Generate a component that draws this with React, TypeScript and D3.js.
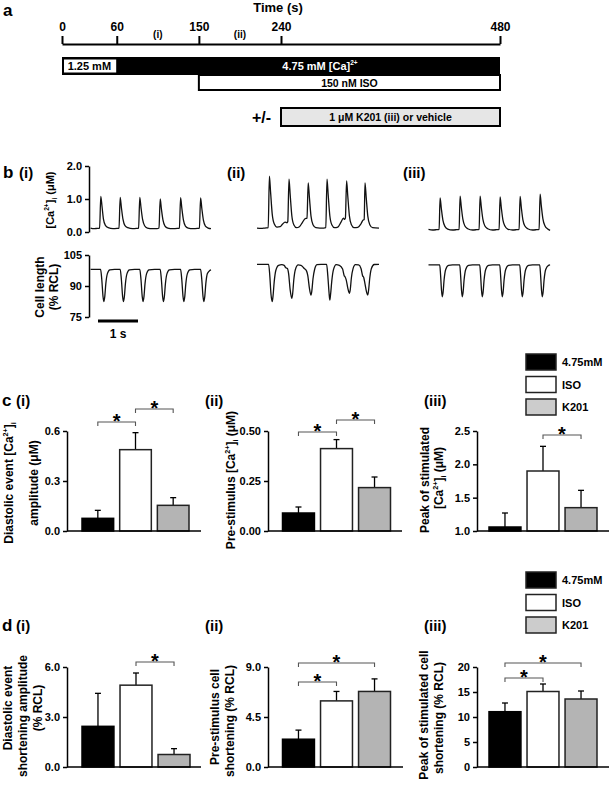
import React, { useRef, useEffect } from "react";
import * as d3 from "d3";

const FONT = "'Liberation Sans', Arial, Helvetica, sans-serif";
const W = 609;
const H = 785;

// ---- panel a: protocol timeline ----
const timeTicks = [0, 60, 150, 240, 480];
const phaseMarks = [
  { label: "(i)", t: 105 },
  { label: "(ii)", t: 195 },
];
const lowCa = { label: "1.25 mM", start: 0, end: 60 };
const highCa = { label: "4.75 mM [Ca]", start: 60, end: 480 };
const isoWin = { label: "150 nM ISO", start: 150, end: 480 };
const k201Win = { label: "1 μM K201 (iii) or vehicle", start: 240, end: 480 };

// ---- panel b: example traces, [time (s), value] ----
const caTraceI = [
  [0, 0.12], [0.08, 0.1], [0.16, 0.11], [0.225, 0.12], [0.255, 1.08], [0.285, 0.78], [0.32, 0.4], [0.37, 0.2], [0.44, 0.13], [0.56, 0.1],
  [0.66, 0.11], [0.71, 0.12], [0.74, 1.05], [0.77, 0.74], [0.81, 0.38], [0.86, 0.19], [0.93, 0.13], [1.05, 0.1],
  [1.15, 0.11], [1.2, 0.12], [1.23, 1.05], [1.26, 0.74], [1.3, 0.38], [1.35, 0.19], [1.42, 0.12], [1.55, 0.1],
  [1.66, 0.1], [1.71, 0.12], [1.74, 1.0], [1.77, 0.7], [1.81, 0.36], [1.86, 0.18], [1.93, 0.12], [2.05, 0.1],
  [2.17, 0.11], [2.22, 0.12], [2.25, 1.04], [2.28, 0.73], [2.32, 0.37], [2.37, 0.18], [2.44, 0.12], [2.56, 0.1],
  [2.67, 0.11], [2.72, 0.12], [2.75, 1.03], [2.78, 0.72], [2.82, 0.36], [2.87, 0.18], [2.94, 0.12], [3.01, 0.1],
];
const clTraceI = [
  [0, 98], [0.25, 98], [0.28, 93], [0.31, 85], [0.33, 82.5], [0.355, 85], [0.38, 91], [0.42, 96], [0.48, 97.8], [0.6, 98],
  [0.74, 98], [0.77, 93], [0.8, 85], [0.82, 82.5], [0.845, 85], [0.87, 91], [0.91, 96], [0.97, 97.8], [1.1, 98],
  [1.23, 98], [1.26, 93], [1.29, 85], [1.31, 82.5], [1.335, 85], [1.36, 91], [1.4, 96], [1.46, 97.8], [1.6, 98],
  [1.74, 98], [1.77, 93], [1.8, 85], [1.82, 82.5], [1.845, 85], [1.87, 91], [1.91, 96], [1.97, 97.8], [2.1, 98],
  [2.25, 98], [2.28, 93], [2.31, 85], [2.33, 82.5], [2.355, 85], [2.38, 91], [2.42, 96], [2.48, 97.8], [2.6, 98],
  [2.75, 98], [2.78, 93], [2.81, 85], [2.83, 82.5], [2.855, 85], [2.88, 91], [2.92, 96], [2.98, 97.5], [3.01, 97.8],
];
const caTraceII = [
  [0, 0.12], [0.1, 0.11], [0.2, 0.12], [0.28, 0.13], [0.31, 1.69], [0.34, 1.2], [0.38, 0.55], [0.43, 0.25], [0.5, 0.15],
  [0.58, 0.16], [0.64, 0.24], [0.7, 0.3], [0.75, 0.28], [0.77, 0.32], [0.8, 1.6], [0.83, 1.12], [0.87, 0.5], [0.92, 0.22], [0.99, 0.13],
  [1.06, 0.16], [1.13, 0.28], [1.2, 0.4], [1.25, 0.42], [1.28, 1.49], [1.31, 1.05], [1.35, 0.48], [1.4, 0.22], [1.47, 0.13],
  [1.57, 0.12], [1.67, 0.12], [1.72, 0.13], [1.75, 1.6], [1.78, 1.12], [1.82, 0.5], [1.87, 0.22], [1.94, 0.13],
  [2.02, 0.15], [2.1, 0.3], [2.16, 0.42], [2.19, 0.38], [2.21, 0.42], [2.24, 1.55], [2.27, 1.08], [2.31, 0.49], [2.36, 0.22], [2.43, 0.13],
  [2.52, 0.14], [2.6, 0.25], [2.65, 0.36], [2.68, 0.38], [2.7, 1.49], [2.73, 1.05], [2.77, 0.48], [2.82, 0.22], [2.89, 0.13], [3.05, 0.12],
];
const clTraceII = [
  [0, 100.5], [0.29, 100.5], [0.32, 95], [0.35, 86], [0.38, 82.4], [0.4, 85], [0.43, 92], [0.47, 97.5], [0.54, 100], [0.62, 100.3],
  [0.68, 100], [0.72, 98.8], [0.76, 98.5], [0.79, 96], [0.83, 88], [0.87, 84], [0.89, 86], [0.92, 93], [0.96, 98], [1.03, 100.2],
  [1.1, 100], [1.18, 98.5], [1.24, 97.2], [1.27, 95], [1.31, 89], [1.35, 85.6], [1.37, 87.5], [1.4, 93.5], [1.44, 98], [1.5, 100.3],
  [1.6, 100.5], [1.74, 100.5], [1.77, 95], [1.8, 87], [1.82, 83.2], [1.84, 86], [1.87, 92.5], [1.91, 97.8], [1.98, 100.3],
  [2.06, 100], [2.14, 98.2], [2.18, 95], [2.2, 94.5], [2.23, 93], [2.27, 89], [2.31, 86.5], [2.33, 88], [2.36, 94], [2.4, 98.3], [2.46, 100.3],
  [2.54, 100.2], [2.6, 98.5], [2.64, 95], [2.67, 94], [2.7, 91], [2.74, 87], [2.77, 85.6], [2.79, 88], [2.82, 94], [2.86, 98.5], [2.93, 100.4], [3.05, 100.5],
];
const caTraceIII = [
  [0, 0.08], [0.1, 0.06], [0.2, 0.07], [0.265, 0.08], [0.29, 1.03], [0.32, 0.72], [0.36, 0.36], [0.41, 0.17], [0.48, 0.09], [0.6, 0.06],
  [0.7, 0.07], [0.765, 0.08], [0.79, 1.09], [0.82, 0.76], [0.86, 0.38], [0.91, 0.18], [0.98, 0.1], [1.1, 0.06],
  [1.2, 0.07], [1.265, 0.08], [1.29, 1.09], [1.32, 0.76], [1.36, 0.38], [1.41, 0.18], [1.48, 0.1], [1.6, 0.06],
  [1.7, 0.07], [1.765, 0.08], [1.79, 1.06], [1.82, 0.74], [1.86, 0.37], [1.91, 0.18], [1.98, 0.09], [2.1, 0.06],
  [2.2, 0.07], [2.265, 0.08], [2.29, 1.08], [2.32, 0.75], [2.36, 0.37], [2.41, 0.18], [2.48, 0.1], [2.6, 0.06],
  [2.7, 0.07], [2.765, 0.08], [2.79, 1.15], [2.82, 0.8], [2.86, 0.4], [2.91, 0.19], [2.98, 0.09], [3.04, 0.05],
];
const clTraceIII = [
  [0, 100.2], [0.28, 100.2], [0.3, 96], [0.325, 88], [0.345, 84.8], [0.365, 87], [0.39, 93], [0.43, 98], [0.5, 100], [0.6, 100.2],
  [0.78, 100.2], [0.8, 96], [0.825, 88], [0.845, 84.8], [0.865, 87], [0.89, 93], [0.93, 98], [1.0, 100], [1.1, 100.2],
  [1.28, 100.2], [1.3, 96], [1.325, 88], [1.345, 84.8], [1.365, 87], [1.39, 93], [1.43, 98], [1.5, 100], [1.6, 100.2],
  [1.78, 100.2], [1.8, 96], [1.825, 88], [1.845, 84.8], [1.865, 87], [1.89, 93], [1.93, 98], [2.0, 100], [2.1, 100.2],
  [2.28, 100.2], [2.3, 96], [2.325, 88], [2.345, 84.8], [2.365, 87], [2.39, 93], [2.43, 98], [2.5, 100], [2.6, 100.2],
  [2.78, 100.2], [2.8, 96], [2.825, 88], [2.845, 84.8], [2.865, 87], [2.89, 93], [2.93, 98], [3.0, 100], [3.04, 100.2],
];
const caTicks = [0, 1, 2];
const clTicks = [75, 90, 105];

// ---- panels c, d: group means and SEM ----
const groups = ["4.75mM", "ISO", "K201"];
const diastolicCaAmp = [0.076, 0.488, 0.154];
const diastolicCaAmpSem = [0.048, 0.102, 0.046];
const preStimCa = [0.09, 0.412, 0.217];
const preStimCaSem = [0.03, 0.045, 0.053];
const peakCa = [1.06, 1.9, 1.35];
const peakCaSem = [0.21, 0.37, 0.26];
const diastolicShort = [2.44, 4.91, 0.75];
const diastolicShortSem = [1.98, 0.73, 0.35];
const preStimShort = [2.5, 5.95, 6.8];
const preStimShortSem = [0.82, 0.85, 1.13];
const peakShort = [11.06, 15.1, 13.6];
const peakShortSem = [1.74, 1.5, 1.6];

const fills = ["#000000", "#ffffff", "#b4b4b4"];
const legendFills = ["#000000", "#ffffff", "#cccccc"];

function LeftAxis({ scale, x, ticks, fmt, size = 11 }: any) {
  const ref = useRef<SVGGElement>(null);
  useEffect(() => {
    const g = d3.select(ref.current);
    g.call(
      d3.axisLeft(scale).tickValues(ticks).tickFormat(d3.format(fmt)).tickSize(4).tickSizeOuter(0).tickPadding(3) as any
    );
    g.attr("font-family", FONT).attr("font-size", size).attr("font-weight", "bold");
    g.select(".domain").attr("stroke", "#000").attr("stroke-width", 1.5);
    g.selectAll(".tick line").attr("stroke", "#000").attr("stroke-width", 1.5);
    g.selectAll(".tick text").attr("fill", "#000");
  }, [scale, ticks, fmt]);
  return <g ref={ref} transform={`translate(${x},0)`} />;
}

function TimeAxis({ scale, y }: any) {
  const ref = useRef<SVGGElement>(null);
  useEffect(() => {
    const g = d3.select(ref.current);
    g.call(d3.axisTop(scale).tickValues(timeTicks).tickFormat(d3.format("d")).tickSize(8).tickSizeOuter(0).tickPadding(5) as any);
    g.attr("font-family", FONT).attr("font-size", 12).attr("font-weight", "bold");
    g.select(".domain").attr("stroke", "#000").attr("stroke-width", 2);
    g.selectAll(".tick line").attr("stroke", "#000").attr("stroke-width", 2);
    g.selectAll(".tick text").attr("fill", "#000");
  }, [scale]);
  return <g ref={ref} transform={`translate(0,${y})`} />;
}

function CaLabel({ size = 11 }: any) {
  return (
    <>
      [Ca<tspan dy={-5} fontSize={size * 0.6}>2+</tspan>
      <tspan dy={5}>]</tspan>
      <tspan dy={3} fontSize={size * 0.6}>i</tspan>
      <tspan dy={-3}> </tspan>
    </>
  );
}

function Timeline() {
  const t = d3.scaleLinear().domain([0, 480]).range([62, 500]);
  return (
    <g fontFamily={FONT} fontWeight="bold">
      <text x={3} y={16} fontSize={17}>a</text>
      <text x={t(240) - 3} y={12} fontSize={13} textAnchor="middle">Time (s)</text>
      <TimeAxis scale={t} y={44} />
      {phaseMarks.map((p) => (
        <text key={p.label} x={t(p.t)} y={38} fontSize={10} textAnchor="middle">{p.label}</text>
      ))}
      <rect x={t(lowCa.start)} y={57} width={t(highCa.end) - t(lowCa.start)} height={18} fill="#000" />
      <rect x={t(lowCa.start) + 1.5} y={59} width={t(lowCa.end) - t(lowCa.start) - 1.5} height={14} fill="#fff" stroke="#000" strokeWidth={1} />
      <text x={(t(lowCa.start) + t(lowCa.end)) / 2} y={70} fontSize={11} textAnchor="middle">{lowCa.label}</text>
      <text x={320} y={70} fontSize={11} textAnchor="middle" fill="#fff">
        {highCa.label}<tspan dy={-5} fontSize={6.5}>2+</tspan>
      </text>
      <rect x={t(isoWin.start)} y={75} width={t(isoWin.end) - t(isoWin.start)} height={15} fill="#fff" stroke="#000" strokeWidth={2} />
      <text x={(t(isoWin.start) + t(isoWin.end)) / 2} y={86.5} fontSize={10.5} textAnchor="middle">{isoWin.label}</text>
      <text x={t(k201Win.start) - 10} y={123} fontSize={16} textAnchor="end">+/-</text>
      <rect x={t(k201Win.start)} y={108} width={t(k201Win.end) - t(k201Win.start)} height={18} fill="#e6e6e6" stroke="#000" strokeWidth={2} />
      <text x={(t(k201Win.start) + t(k201Win.end)) / 2} y={121} fontSize={10.5} textAnchor="middle">{k201Win.label}</text>
    </g>
  );
}

function Traces() {
  const cols = [
    { x0: 90.6, ca: caTraceI, cl: clTraceI, label: "(i)", lx: 19 },
    { x0: 257, ca: caTraceII, cl: clTraceII, label: "(ii)", lx: 227 },
    { x0: 428.5, ca: caTraceIII, cl: clTraceIII, label: "(iii)", lx: 403 },
  ];
  const yCa = d3.scaleLinear().domain([0, 2]).range([232, 166]);
  const yCl = d3.scaleLinear().domain([75, 105]).range([317, 255]);
  return (
    <g fontFamily={FONT} fontWeight="bold">
      <text x={3} y={178} fontSize={17}>b</text>
      {cols.map((c) => {
        const x = d3.scaleLinear().domain([0, 1]).range([c.x0, c.x0 + 40]);
        const lineCa = d3.line<number[]>().x((d) => x(d[0])).y((d) => yCa(d[1])).curve(d3.curveMonotoneX);
        const lineCl = d3.line<number[]>().x((d) => x(d[0])).y((d) => yCl(d[1])).curve(d3.curveMonotoneX);
        return (
          <g key={c.label}>
            <text x={c.lx} y={178} fontSize={15}>{c.label}</text>
            <path d={lineCa(c.ca as any) || ""} fill="none" stroke="#111" strokeWidth={1.3} />
            <path d={lineCl(c.cl as any) || ""} fill="none" stroke="#111" strokeWidth={1.3} />
          </g>
        );
      })}
      <LeftAxis scale={yCa} x={89} ticks={caTicks} fmt=".1f" />
      <LeftAxis scale={yCl} x={89} ticks={clTicks} fmt="d" />
      <text transform="translate(54,200) rotate(-90)" fontSize={11} textAnchor="middle">
        <CaLabel size={11} />(μM)
      </text>
      <text transform="translate(44,287) rotate(-90)" fontSize={12} textAnchor="middle">Cell length</text>
      <text transform="translate(58,287) rotate(-90)" fontSize={12} textAnchor="middle">(% RCL)</text>
      <line x1={98} x2={138} y1={321} y2={321} stroke="#000" strokeWidth={3} />
      <text x={118} y={338} fontSize={12} textAnchor="middle">1 s</text>
    </g>
  );
}

function BarPanel({ axisX, top, bottom, end, domain, ticks, fmt, means, sems, brackets, barRange }: any) {
  const y = d3.scaleLinear().domain(domain).range([bottom, top]);
  const x = d3.scaleBand().domain(groups).range(barRange).paddingInner(0.16).paddingOuter(0);
  const bw = x.bandwidth();
  const cx = (i: number) => (x(groups[i]) as number) + bw / 2;
  return (
    <g>
      {groups.map((g, i) => (
        <g key={g}>
          <line x1={cx(i)} x2={cx(i)} y1={y(means[i])} y2={y(means[i] + sems[i])} stroke="#000" strokeWidth={1.3} />
          <line x1={cx(i) - 3} x2={cx(i) + 3} y1={y(means[i] + sems[i])} y2={y(means[i] + sems[i])} stroke="#000" strokeWidth={1.3} />
          <rect x={x(g)} y={y(means[i])} width={bw} height={y(domain[0]) - y(means[i])} fill={fills[i]} stroke={i === 0 ? "#000" : "#222"} strokeWidth={1.5} />
        </g>
      ))}
      <line x1={axisX} x2={end} y1={bottom} y2={bottom} stroke="#000" strokeWidth={1.5} />
      <LeftAxis scale={y} x={axisX} ticks={ticks} fmt={fmt} />
      {brackets.map((b: any, k: number) => (
        <g key={k}>
          <path d={`M${cx(b.a)},${b.y + 4}V${b.y}H${cx(b.b)}V${b.y + 4}`} fill="none" stroke="#555" strokeWidth={1.1} />
          <text x={(cx(b.a) + cx(b.b)) / 2} y={b.y + 6} fontSize={20} fontWeight="bold" fontFamily={FONT} textAnchor="middle">*</text>
        </g>
      ))}
    </g>
  );
}

function Legend({ y0 }: any) {
  return (
    <g fontFamily={FONT} fontWeight="bold" fontSize={11}>
      {groups.map((g, i) => (
        <g key={g}>
          <rect x={526} y={y0 + i * 22.5} width={30} height={16} fill={legendFills[i]} stroke="#222" strokeWidth={1.5} />
          <text x={562} y={y0 + i * 22.5 + 12}>{g}</text>
        </g>
      ))}
    </g>
  );
}

function RotLabel({ x, y, children, size = 12 }: any) {
  return (
    <text transform={`translate(${x},${y}) rotate(-90)`} fontSize={size} fontFamily={FONT} fontWeight="bold" textAnchor="middle">
      {children}
    </text>
  );
}

export default function App() {
  useEffect(() => {
    document.body.style.margin = "0";
  }, []);
  const cTop = 431;
  const cBot = 531;
  const dTop = 667;
  const dBot = 767;
  return (
    <svg width={W} height={H} style={{ position: "absolute", left: 0, top: 0, background: "#fff" }}>
      <rect width={W} height={H} fill="#fff" />
      <Timeline />
      <Traces />

      {/* panel c */}
      <g fontFamily={FONT} fontWeight="bold">
        <text x={2} y={406} fontSize={17}>c</text>
        <text x={16} y={406} fontSize={15}>(i)</text>
        <text x={205} y={406} fontSize={15}>(ii)</text>
        <text x={424} y={406} fontSize={15}>(iii)</text>
      </g>
      <Legend y0={354} />
      <BarPanel axisX={67} top={cTop} bottom={cBot} end={201} domain={[0, 0.6]} ticks={[0, 0.3, 0.6]} fmt=".1f"
        means={diastolicCaAmp} sems={diastolicCaAmpSem} barRange={[82, 189]}
        brackets={[{ a: 0, b: 1, y: 422 }, { a: 1, b: 2, y: 409 }]} />
      <BarPanel axisX={268} top={cTop} bottom={cBot} end={402} domain={[0, 0.5]} ticks={[0, 0.25, 0.5]} fmt=".2f"
        means={preStimCa} sems={preStimCaSem} barRange={[282.5, 390.5]}
        brackets={[{ a: 0, b: 1, y: 432 }, { a: 1, b: 2, y: 420 }]} />
      <BarPanel axisX={477} top={cTop} bottom={cBot} end={609} domain={[1, 2.5]} ticks={[1, 1.5, 2, 2.5]} fmt=".1f"
        means={peakCa} sems={peakCaSem} barRange={[489, 597]}
        brackets={[{ a: 1, b: 2, y: 435 }]} />
      <RotLabel x={13} y={483}>Diastolic event <CaLabel size={12} /></RotLabel>
      <RotLabel x={38} y={483}>amplitude (μM)</RotLabel>
      <RotLabel x={235} y={480}>Pre-stimulus <CaLabel size={12} />(μM)</RotLabel>
      <RotLabel x={429} y={480}>Peak of stimulated</RotLabel>
      <RotLabel x={443} y={478}><CaLabel size={12} />(μM)</RotLabel>

      {/* panel d */}
      <g fontFamily={FONT} fontWeight="bold">
        <text x={2} y={631} fontSize={17}>d</text>
        <text x={16} y={631} fontSize={15}>(i)</text>
        <text x={205} y={631} fontSize={15}>(ii)</text>
        <text x={424} y={631} fontSize={15}>(iii)</text>
      </g>
      <Legend y0={572} />
      <BarPanel axisX={67} top={dTop} bottom={dBot} end={201} domain={[0, 6]} ticks={[0, 3, 6]} fmt=".1f"
        means={diastolicShort} sems={diastolicShortSem} barRange={[82, 190]}
        brackets={[{ a: 1, b: 2, y: 662 }]} />
      <BarPanel axisX={268} top={dTop} bottom={dBot} end={403} domain={[0, 9]} ticks={[0, 4.5, 9]} fmt=".1f"
        means={preStimShort} sems={preStimShortSem} barRange={[282.5, 390.5]}
        brackets={[{ a: 0, b: 1, y: 682 }, { a: 0, b: 2, y: 663 }]} />
      <BarPanel axisX={477} top={dTop} bottom={dBot} end={609} domain={[0, 20]} ticks={[0, 5, 10, 15, 20]} fmt="d"
        means={peakShort} sems={peakShortSem} barRange={[489, 597]}
        brackets={[{ a: 0, b: 1, y: 678 }, { a: 0, b: 2, y: 663 }]} />
      <RotLabel x={12} y={708}>Diastolic event</RotLabel>
      <RotLabel x={27} y={716}>shortening amplitude</RotLabel>
      <RotLabel x={42} y={708}>(% RCL)</RotLabel>
      <RotLabel x={219} y={717}>Pre-stimulus cell</RotLabel>
      <RotLabel x={234} y={721}>shortening (% RCL)</RotLabel>
      <RotLabel x={428} y={715}>Peak of stimulated cell</RotLabel>
      <RotLabel x={443} y={718}>shortening (% RCL)</RotLabel>
    </svg>
  );
}
